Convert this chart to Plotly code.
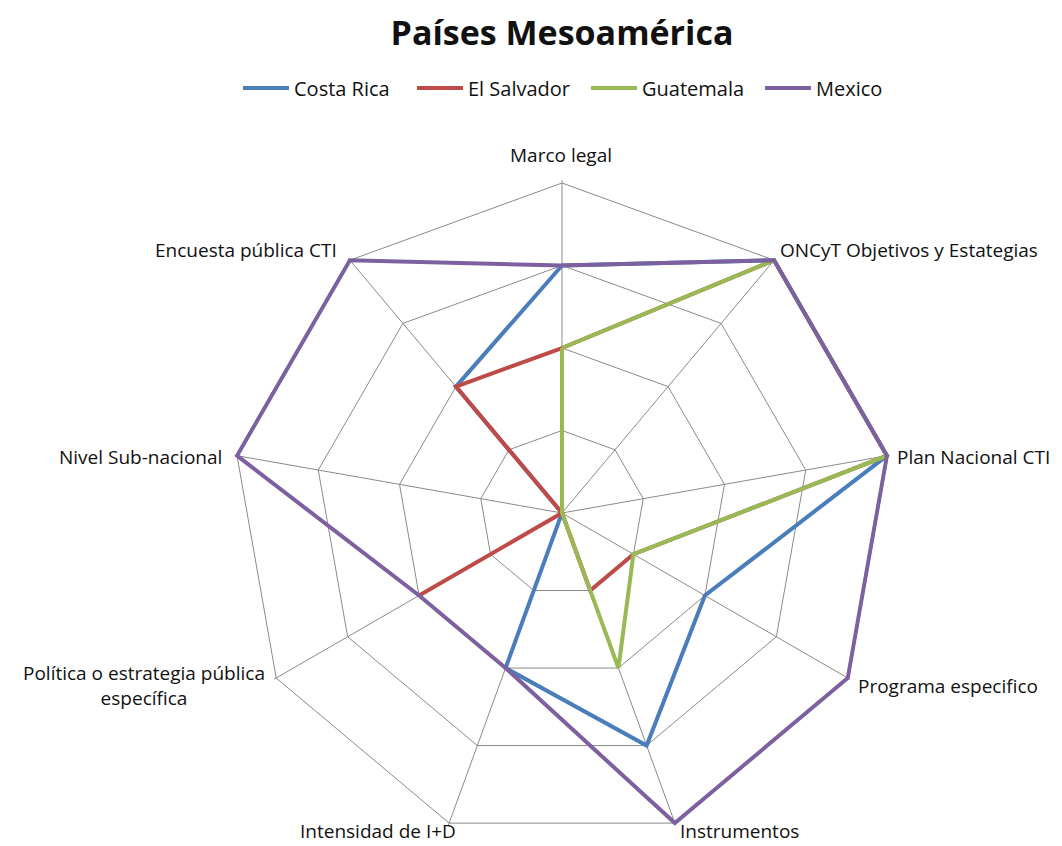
import math
import plotly.graph_objects as go

categories = ["Marco legal", "ONCyT Objetivos y Estategias", "Plan Nacional CTI",
              "Programa especifico", "Instrumentos", "Intensidad de I+D",
              "Política o estrategia pública<br>específica", "Nivel Sub-nacional",
              "Encuesta pública CTI"]
series_names = ["Costa Rica", "El Salvador", "Guatemala", "Mexico"]
costa_rica = [3, 4, 4, 2, 3, 2, 0, 0, 2]
el_salvador = [2, 4, 4, 1, 1, 0, 2, 0, 2]
guatemala = [2, 4, 4, 1, 2, 0, 0, 0, 0]
mexico = [3, 4, 4, 4, 4, 2, 2, 4, 4]
colors = ["#4A7EBB", "#BE4B48", "#98B954", "#7D60A0"]

FONT = "Open Sans, Lato, sans-serif"
fig = go.Figure()
for name, vals, col in zip(series_names, [costa_rica, el_salvador, guatemala, mexico], colors):
    fig.add_trace(go.Scatterpolar(
        r=vals + vals[:1], theta=categories + categories[:1], mode="lines",
        name=name, line=dict(color=col, width=4), cliponaxis=False))

W, H = 1062, 846
OX, OY = 8, 8  # page body margin offset
RMAX = 4.03
dom_cx, dom_cy = 554, 505
dom_R = 330 * RMAX / 4
cx, cy, R = 562, 513, 329  # polygon on screen

# label offsets from vertices (screen px) and anchors
label_style = [(-1, -29, "center", "middle"), (5, -11, "left", "middle"),
               (9, 1, "left", "middle"), (9, 9, "left", "middle"),
               (3, 0, "left", "bottom"), (9, 0, "right", "bottom"),
               (-10, 8, "right", "middle"), (-14, 1, "right", "middle"),
               (-12, -11, "right", "middle")]

annotations = []
n = len(categories)
for k, (lab, st) in enumerate(zip(categories, label_style)):
    th = math.radians(360 * k / n)
    vx, vy = cx + R * math.sin(th), cy - R * math.cos(th)
    dx, dy, xa, ya = st
    x = vx + dx - OX
    y = (vy + dy - OY) if ya == "middle" else (H - OY)
    annotations.append(dict(text=lab, x=x / W, y=1 - y / H, xref="paper", yref="paper",
                            xanchor=xa, yanchor=ya, showarrow=False, align="center",
                            font=dict(size=19, color="#111", family=FONT)))

fig.update_layout(
    width=W, height=H,
    margin=dict(l=0, r=0, t=0, b=0),
    paper_bgcolor="white", plot_bgcolor="white",
    font=dict(family=FONT, size=19, color="#111"),
    title=dict(text="<b>Países Mesoamérica</b>", x=554 / W, xanchor="center",
               y=1 - 25 / H, yanchor="middle", font=dict(size=34, color="#111", family=FONT)),
    legend=dict(orientation="h", x=(243 - OX - 5) / W, xanchor="left", y=1 - 80 / H,
                yanchor="middle", font=dict(size=20), itemwidth=46,
                entrywidth=113, entrywidthmode="pixels", bgcolor="rgba(0,0,0,0)"),
    annotations=annotations,
    polar=dict(
        domain=dict(x=[(dom_cx - dom_R) / W, (dom_cx + dom_R) / W],
                    y=[(H - dom_cy - dom_R) / H, (H - dom_cy + dom_R) / H]),
        gridshape="linear",
        bgcolor="white",
        radialaxis=dict(range=[0, RMAX], tickvals=[1, 2, 3, 4], showticklabels=False, ticks="",
                        showline=False, gridcolor="#8a8a8a", gridwidth=1, layer="below traces"),
        angularaxis=dict(direction="clockwise", rotation=90, gridcolor="#8a8a8a",
                         showline=False, ticks="", showticklabels=False,
                         layer="below traces"),
    ),
)
fig.write_html("out.html")
